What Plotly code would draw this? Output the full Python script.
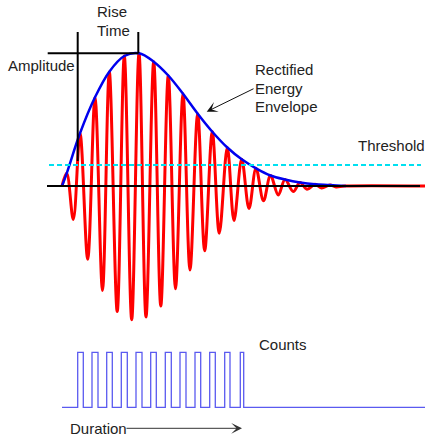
import plotly.graph_objects as go

# ---------------- data (time in arbitrary units, amplitude up = positive) ----------------
peak_t = [4.7, 18, 33, 47.3, 62.3, 77, 91.7, 106.3, 121, 135.7, 150.3, 165.3, 179.7, 194, 208.5, 223, 238, 253, 268]
peak_a = [12.7, 52.7, 88.7, 114.3, 130, 132.7, 124.3, 110.5, 92.2, 72.3, 54.3, 38.5, 26.7, 17.7, 10.5, 6.5, 3.5, 1.7, 1.0]
trough_t = [11.3, 25.7, 40.5, 55.2, 69.7, 84, 98.8, 113.5, 128, 142.7, 157.3, 172, 187, 201.5, 216.3, 231.3, 245, 259.5, 274]
trough_a = [-33.5, -73.3, -104.5, -125.5, -133.7, -131, -120, -102.8, -84, -64.7, -47.3, -34.5, -22.5, -14.7, -9, -5.5, -3.3, -2, -1]
wave_start_t = 0
wave_settle_t = 283
wave_end_t = 363

envelope_start_t = 0
envelope_end_t = 284

threshold_level = 21
threshold_t = [-13, 359]
baseline_t = [-15, 358]

rise_start_t = 15.7
rise_peak_t = 76.3
amplitude_level = 132.7
marker_top = 154
rise_line_bottom = 25
amplitude_line_left = -14.3

pulse_rise = [15.7, 30, 44.7, 59.3, 74, 88.7, 103.3, 118, 133, 147.7, 162.7, 178.3]
pulse_fall = [21.3, 36, 50.3, 65.3, 80, 94.3, 109.3, 124, 138.7, 153.3, 168, 181.7]
count_low = -221.3
count_high = -166.3
count_start_t = 0
count_end_t = 363

# ---------------- build traces ----------------
wave_t = [wave_start_t]
wave_a = [0]
for i in range(len(peak_t)):
    wave_t += [peak_t[i], trough_t[i]]
    wave_a += [peak_a[i], trough_a[i]]
wave_t += [wave_settle_t, wave_end_t]
wave_a += [0, 0]

env_t = [envelope_start_t] + peak_t + [envelope_end_t]
env_a = [0] + peak_a + [0]

cnt_t = [count_start_t]
cnt_a = [count_low]
for r, f in zip(pulse_rise, pulse_fall):
    cnt_t += [r, r, f, f]
    cnt_a += [count_low, count_high, count_high, count_low]
cnt_t += [count_end_t]
cnt_a += [count_low]

fig = go.Figure()
fig.add_trace(go.Scatter(x=wave_t, y=wave_a, mode="lines",
                         line=dict(color="#ff0000", width=3, shape="spline", smoothing=1.0)))
fig.add_trace(go.Scatter(x=env_t, y=env_a, mode="lines",
                         line=dict(color="#0000ee", width=2.5, shape="spline", smoothing=1.0)))
fig.add_trace(go.Scatter(x=threshold_t, y=[threshold_level, threshold_level], mode="lines",
                         line=dict(color="#00e0f0", width=2, dash="5px,3px")))
fig.add_trace(go.Scatter(x=baseline_t, y=[0, 0], mode="lines",
                         line=dict(color="#000000", width=2)))
# rise time / amplitude markers
fig.add_trace(go.Scatter(x=[rise_start_t, rise_start_t], y=[marker_top, rise_line_bottom], mode="lines",
                         line=dict(color="#000000", width=2)))
fig.add_trace(go.Scatter(x=[rise_peak_t, rise_peak_t], y=[marker_top, amplitude_level], mode="lines",
                         line=dict(color="#000000", width=2)))
fig.add_trace(go.Scatter(x=[amplitude_line_left, rise_peak_t], y=[amplitude_level, amplitude_level], mode="lines",
                         line=dict(color="#000000", width=2)))
fig.add_trace(go.Scatter(x=cnt_t, y=cnt_a, mode="lines",
                         line=dict(color="#5a5af0", width=1.3)))

font = dict(family="Liberation Sans, Arial, sans-serif", size=15, color="#222222")
texts = [
    ("Rise", 50, 174.3, "center"),
    ("Time", 51, 156, "center"),
    ("Amplitude", -56, 120.5, "left"),
    ("Rectified", 190.5, 116.5, "left"),
    ("Energy", 190.5, 98, "left"),
    ("Envelope", 190.5, 80, "left"),
    ("Threshold", 364.8, 41, "right"),
    ("Counts", 195, -158, "left"),
    ("Duration", 6, -242, "left"),
]
annotations = [dict(text=t, x=x, y=y, xref="x", yref="y", xanchor=a, yanchor="middle",
                    showarrow=False, font=font) for t, x, y, a in texts]
annotations.append(dict(text="", x=144.7, y=74.3, ax=193, ay=98, xref="x", yref="y",
                        axref="x", ayref="y", showarrow=True, arrowhead=3, arrowsize=1.8,
                        arrowwidth=1, arrowcolor="#111111", standoff=0))
annotations.append(dict(text="", x=180, y=-242.3, ax=63, ay=-242.3, xref="x", yref="y",
                        axref="x", ayref="y", showarrow=True, arrowhead=3, arrowsize=1.8,
                        arrowwidth=1, arrowcolor="#333333", standoff=0))

fig.update_layout(
    width=427, height=441,
    margin=dict(l=0, r=0, t=0, b=0),
    paper_bgcolor="white", plot_bgcolor="white",
    showlegend=False,
    xaxis=dict(range=[-62, 365], visible=False, fixedrange=True),
    yaxis=dict(range=[-255, 186], visible=False, fixedrange=True),
    annotations=annotations,
    template="none",
)
fig.write_html("out.html", config={"displayModeBar": False},
               post_script="document.body.style.margin='0';")
